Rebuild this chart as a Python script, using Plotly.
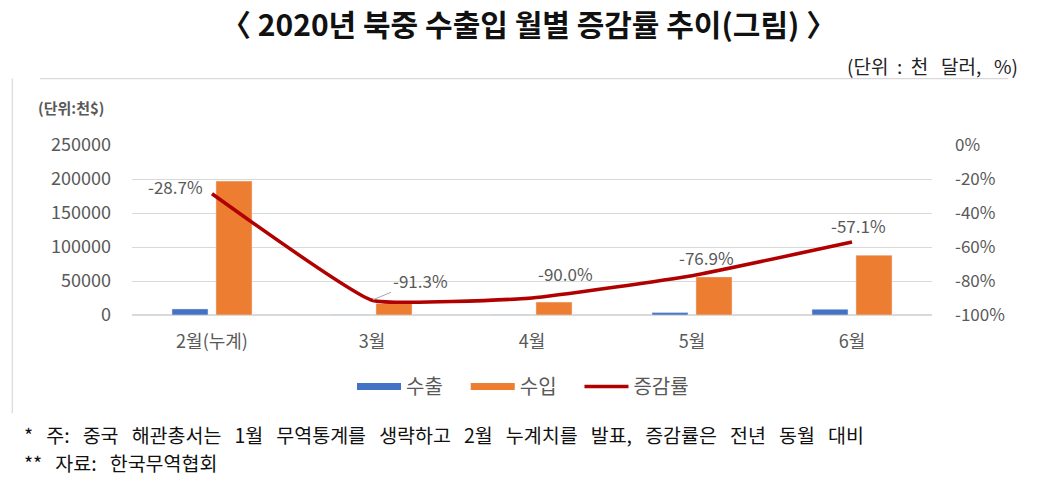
import plotly.graph_objects as go

months = ["2월(누계)", "3월", "4월", "5월", "6월"]
exports = [9000, 300, 300, 3500, 8500]
imports = [197000, 17000, 19000, 56000, 88000]
rate = [-28.7, -91.3, -90.0, -76.9, -57.1]
left_ticks = [0, 50000, 100000, 150000, 200000, 250000]
right_ticks = [0, -20, -40, -60, -80, -100]

FONT = "Noto Sans CJK KR"
GRAY = "#595959"
BLUE = "#4472C4"
ORANGE = "#ED7D31"
RED = "#B00000"
NB = "\u00a0"

fig = go.Figure()
fig.add_trace(go.Bar(x=months, y=exports, name="수출", marker_color=BLUE, showlegend=False))
fig.add_trace(go.Bar(x=months, y=imports, name="수입", marker_color=ORANGE, showlegend=False))
fig.add_trace(go.Scatter(x=months, y=rate, name="증감률", yaxis="y2", mode="lines", showlegend=False,
                         line=dict(color=RED, width=3.5, shape="spline", smoothing=0.35)))

# legend proxies (wide swatches as in the reference)
for nm, col, w in [("수출", BLUE, 7), ("수입", ORANGE, 7), ("증감률", RED, 3.5)]:
    fig.add_trace(go.Scatter(x=[None], y=[None], mode="lines", name=nm + NB * 4,
                             line=dict(color=col, width=w), showlegend=True))

# data labels for the line
offsets = [(-37, 7), (48, 20), (33, 25), (14, 18), (6, 17)]
for i, (m, r, (dx, dy)) in enumerate(zip(months, rate, offsets)):
    ann = dict(x=m, y=r, xref="x", yref="y2", text=f"{r:.1f}%",
               font=dict(family=FONT, size=17, color=GRAY), showarrow=False,
               xshift=dx, yshift=dy)
    if i == 1:
        ann.update(showarrow=True, ax=48, ay=-20, arrowhead=0, arrowwidth=1,
                   arrowcolor="#A6A6A6", standoff=1, xshift=0, yshift=0)
    fig.add_annotation(**ann)

fig.update_layout(
    width=1046, height=481,
    margin=dict(l=132, r=114, t=145, b=166),
    paper_bgcolor="white", plot_bgcolor="white",
    barmode="group", bargap=0.45, bargroupgap=0.18,
    font=dict(family=FONT, color=GRAY),
    showlegend=True,
    legend=dict(orientation="h", x=0.5, xanchor="center", xref="paper",
                y=-0.42, yanchor="middle", font=dict(family=FONT, size=20, color=GRAY),
                traceorder="normal", itemwidth=44),
    xaxis=dict(tickfont=dict(family=FONT, size=18, color=GRAY), showline=False,
               ticks="", ticklabelstandoff=14),
    yaxis=dict(range=[0, 250000], tickmode="array", tickvals=left_ticks,
               ticktext=[str(v) for v in left_ticks],
               showgrid=True, gridcolor="#D9D9D9", gridwidth=1, zeroline=True,
               zerolinecolor="#D9D9D9", tickfont=dict(family=FONT, size=18, color=GRAY),
               ticklabelstandoff=20),
    yaxis2=dict(range=[-100, 0], tickmode="array", tickvals=right_ticks,
                ticktext=[f"{v}%" for v in right_ticks], overlaying="y",
                side="right", showgrid=False, zeroline=False,
                tickfont=dict(family=FONT, size=17, color=GRAY), ticklabelstandoff=22),
)

# chart frame
fig.add_shape(type="line", xref="paper", yref="paper", x0=-0.115, x1=1.095, y0=1.39, y1=1.39,
              line=dict(color="#D0D0D0", width=1))
fig.add_shape(type="line", xref="paper", yref="paper", x0=-0.1497, x1=-0.1497, y0=1.39, y1=-0.578,
              line=dict(color="#D0D0D0", width=1))

fig.add_annotation(text="〈 2020년 북중 수출입 월별 증감률 추이(그림) 〉", xref="paper", yref="paper",
                   x=0.496, y=1.72, xanchor="center", yanchor="middle", showarrow=False,
                   font=dict(family=FONT, size=30, color="#111111", weight="bold"))
fig.add_annotation(text=f"(단위{NB}{NB}:{NB}{NB}천{NB}{NB}{NB}달러,{NB}{NB}{NB}%)", xref="paper", yref="paper",
                   x=1.11, y=1.47, xanchor="right", yanchor="middle", showarrow=False,
                   font=dict(family=FONT, size=19, color="#222222"))
fig.add_annotation(text="(단위:천$)", xref="paper", yref="paper",
                   x=-0.12, y=1.22, xanchor="left", yanchor="middle", showarrow=False,
                   font=dict(family=FONT, size=15, color=GRAY, weight="bold"))
note1 = "* 주: 중국 해관총서는 1월 무역통계를 생략하고 2월 누계치를 발표, 증감률은 전년 동월 대비"
note2 = "** 자료: 한국무역협회"
fig.add_annotation(text=note1.replace(" ", NB * 3),
                   xref="paper", yref="paper", x=-0.137, y=-0.705, xanchor="left", yanchor="middle",
                   showarrow=False, font=dict(family=FONT, size=19.5, color="#111111"))
fig.add_annotation(text=note2.replace(" ", NB * 3),
                   xref="paper", yref="paper", x=-0.137, y=-0.865, xanchor="left", yanchor="middle",
                   showarrow=False, font=dict(family=FONT, size=19.5, color="#111111"))

fig.write_html("out.html")
